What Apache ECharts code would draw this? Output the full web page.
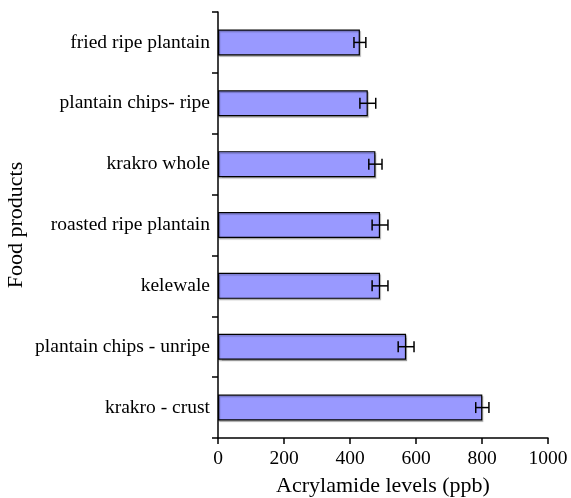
<!DOCTYPE html>
<html>
<head>
<meta charset="utf-8">
<script src="https://cdn.jsdelivr.net/npm/echarts@6/dist/echarts.min.js"></script>
<style>
  html, body { margin: 0; padding: 0; background: #fff; }
  #chart { width: 571px; height: 498px; }
</style>
</head>
<body>
<div id="chart"></div>
<script>
  // data (top to bottom)
  var foods = ['fried ripe plantain', 'plantain chips- ripe', 'krakro whole',
    'roasted ripe plantain', 'kelewale', 'plantain chips - unripe', 'krakro - crust'];
  var levels = [430, 454, 477, 491, 491, 570, 801];
  var errors = [18, 24, 20, 24, 24, 24, 20];
  var xTicks = [0, 200, 400, 600, 800, 1000];

  var chart = echarts.init(document.getElementById('chart'));
  var font = 'Liberation Serif';

  var errData = levels.map(function (v, i) { return [i, v - errors[i], v + errors[i]]; });

  var option = {
    animation: false,
    grid: { left: 218, right: 23, top: 12, bottom: 60, outerBoundsMode: 'none', containLabel: false },
    xAxis: {
      type: 'value',
      min: xTicks[0],
      max: xTicks[xTicks.length - 1],
      interval: 200,
      name: 'Acrylamide levels (ppb)',
      nameLocation: 'middle',
      nameGap: 37,
      nameMoveOverlap: false,
      nameTextStyle: { fontFamily: font, fontSize: 22, color: '#000' },
      axisLine: { show: true, lineStyle: { color: '#000', width: 1.5 } },
      axisTick: { show: true, length: 6, lineStyle: { color: '#000', width: 1.5 } },
      axisLabel: {
        fontFamily: font, fontSize: 19.5, color: '#000', margin: 11,
        formatter: function (v) { return String(v); }
      },
      splitLine: { show: false }
    },
    yAxis: {
      type: 'category',
      data: foods,
      inverse: true,
      name: 'Food products',
      nameLocation: 'middle',
      nameGap: 191,
      nameMoveOverlap: false,
      nameTextStyle: { fontFamily: font, fontSize: 22, color: '#000' },
      axisLine: { show: true, onZero: false, lineStyle: { color: '#000', width: 1.5 } },
      axisTick: { show: true, length: 6, alignWithLabel: false, lineStyle: { color: '#000', width: 1.5 } },
      axisLabel: { fontFamily: font, fontSize: 19.5, color: '#000', margin: 8 },
      splitLine: { show: false }
    },
    series: [
      {
        type: 'bar',
        data: levels,
        barWidth: 26,
        itemStyle: {
          color: '#9999ff',
          borderColor: '#000',
          borderWidth: 1.2,
          shadowColor: 'rgba(0,0,0,0.25)',
          shadowOffsetX: 1,
          shadowOffsetY: 1.5,
          shadowBlur: 1
        }
      },
      {
        type: 'custom',
        data: errData,
        z: 10,
        renderItem: function (params, api) {
          var c = api.value(0);
          var lo = api.coord([api.value(1), c]);
          var hi = api.coord([api.value(2), c]);
          var h = 5.5;
          var style = { stroke: '#000', lineWidth: 1.5 };
          return {
            type: 'group',
            children: [
              { type: 'line', shape: { x1: lo[0], y1: lo[1], x2: hi[0], y2: hi[1] }, style: style },
              { type: 'line', shape: { x1: lo[0], y1: lo[1] - h, x2: lo[0], y2: lo[1] + h }, style: style },
              { type: 'line', shape: { x1: hi[0], y1: hi[1] - h, x2: hi[0], y2: hi[1] + h }, style: style }
            ]
          };
        }
      }
    ]
  };

  chart.setOption(option);
</script>
</body>
</html>
